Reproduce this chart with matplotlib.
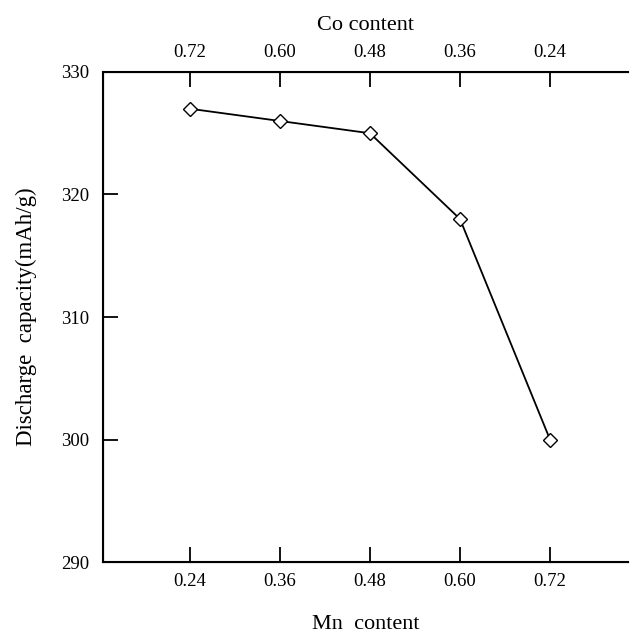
import matplotlib.pyplot as plt

mn_content = [0.24, 0.36, 0.48, 0.60, 0.72]
co_labels = ['0.72', '0.60', '0.48', '0.36', '0.24']
capacity = [327, 326, 325, 318, 300]

plt.rcParams['font.family'] = ['Liberation Serif', 'DejaVu Serif']

fig = plt.figure(figsize=(6.35, 6.37), dpi=100)
ax = fig.add_axes([0.162, 0.1177, 0.827, 0.7693])

ax.plot(mn_content, capacity, color='black', lw=1.3, marker='D', ms=7,
        mfc='white', mec='black', mew=1.0)

ax.set_xlim(0.124, 0.824)
ax.set_ylim(290, 330)
ax.set_xticks(mn_content)
ax.set_xticklabels(['%.2f' % v for v in mn_content])
ax.set_yticks([290, 300, 310, 320, 330])
ax.tick_params(direction='in', length=11, width=1.3, labelsize=13.5, pad=8)
ax.tick_params(axis='y', pad=10)
ax.spines['right'].set_visible(False)
for s in ['left', 'bottom', 'top']:
    ax.spines[s].set_linewidth(1.5)
ax.set_xlabel('Mn  content', fontsize=16, labelpad=18)
ax.set_ylabel('Discharge  capacity(mAh/g)', fontsize=16.5, labelpad=17)

ax2 = ax.twiny()
ax2.set_xlim(ax.get_xlim())
ax2.set_xticks(mn_content)
ax2.set_xticklabels(co_labels)
ax2.tick_params(direction='in', length=11, width=1.3, labelsize=13.5, pad=8)
ax2.spines['right'].set_visible(False)
ax2.set_xlabel('Co content', fontsize=16, labelpad=10)

fig.savefig('out.png', dpi=100)
